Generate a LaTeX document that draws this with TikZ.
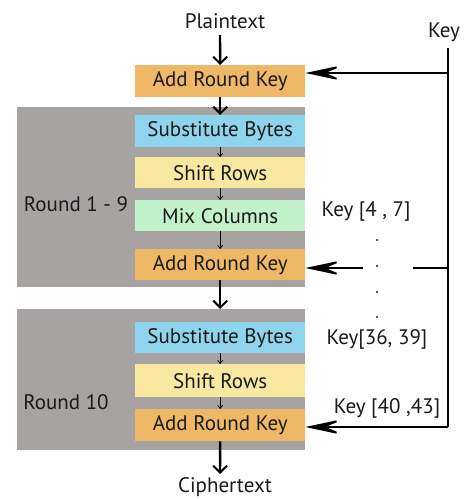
\documentclass[tikz,border=0pt]{standalone}
\usepackage{fontspec}
\setmainfont{PT Sans}
\usetikzlibrary{arrows.meta}
\definecolor{ark}{HTML}{EFB866}
\definecolor{sbc}{HTML}{8FD4ED}
\definecolor{src}{HTML}{F8E8A0}
\definecolor{mcc}{HTML}{C2F2CA}
\definecolor{grayc}{HTML}{A8A3A3}
\definecolor{txt}{HTML}{1A1A1A}
\begin{document}
\begin{tikzpicture}[x=1pt,y=-1pt,
  stage/.style={minimum width=170pt,minimum height=32pt,inner sep=0pt,anchor=north west,
    font=\fontsize{21}{24}\selectfont,text=txt},
  roundbox/.style={fill=grayc,minimum width=288pt,inner sep=0pt,anchor=north west},
  lbl/.style={font=\fontsize{21}{24}\selectfont,text=txt,inner sep=0pt},
  bigarrow/.style={line width=2.4pt,-{Straight Barb[length=7pt,width=14pt,line width=2pt]}},
  smallarrow/.style={line width=0.8pt,-{Straight Barb[length=3pt,width=5pt]}},
  keyline/.style={line width=2pt},
  keyarrow/.style={line width=1.8pt,-{Stealth[length=40pt,width=17pt,inset=20pt]}},
  dotc/.style={circle,fill=txt,inner sep=0pt,minimum size=2.2pt}]
\useasboundingbox (0,0) rectangle (465,499);
% round backgrounds
\node[roundbox,minimum height=180pt] (r1) at (17,107) {};
\node[roundbox,minimum height=141pt] (r2) at (17,309) {};
\node[lbl] (r1l) at (76,204) {Round 1 - 9};
\node[lbl] (r2l) at (66,402) {Round 10};
% stages
\node[stage,fill=ark] (ark0) at (135,65) {Add Round Key};
\node[stage,fill=sbc,minimum height=32pt] (sb1) at (135,115) {Substitute Bytes};
\node[stage,fill=src,minimum height=31pt] (sr1) at (135,157) {Shift Rows};
\node[stage,fill=mcc,minimum height=31pt] (mc1) at (135,200) {Mix Columns};
\node[stage,fill=ark,minimum height=31pt] (ark1) at (135,249) {Add Round Key};
\node[stage,fill=sbc,minimum height=31pt] (sb2) at (135,322) {Substitute Bytes};
\node[stage,fill=src,minimum height=33pt] (sr2) at (135,364) {Shift Rows};
\node[stage,fill=ark,minimum height=32pt] (ark2) at (135,409) {Add Round Key};
% texts
\node[lbl] (pt) at (225,21) {Plaintext};
\node[lbl] (ct) at (225,487) {Ciphertext};
\node[lbl] (key) at (444,32) {Key};
\node[lbl] (k47) at (366,211) {Key [4 , 7]};
\node[lbl] (k3639) at (377,339) {Key[36, 39]};
\node[lbl] (k4043) at (387,408) {Key [40 ,43]};
% main flow
\draw[bigarrow] (220,35) -- (ark0.north);
\draw[bigarrow] (ark0.south) -- (sb1.north);
\draw[smallarrow] (sb1.south) -- (sr1.north);
\draw[smallarrow] (sr1.south) -- (mc1.north);
\draw[smallarrow] (mc1.south) -- (ark1.north);
\draw[bigarrow] (ark1.south) -- (ark1.south |- r2.north);
\draw[smallarrow] (sb2.south) -- (sr2.north);
\draw[smallarrow] (sr2.south) -- (ark2.north);
\draw[bigarrow] (ark2.south) -- (220,474);
% key schedule
\coordinate (ktop) at (448,48);
\coordinate (k1) at (448,73);
\coordinate (kmid) at (448,268);
\coordinate (kmidend) at (413,268);
\coordinate (kmidstart) at (363,268);
\coordinate (kbot) at (448,427);
\draw[keyline] (ktop) -- (kbot);
\draw[keyarrow] (k1) -- (ark0.east |- k1);
\draw[keyline] (kmid) -- (kmidend);
\draw[keyarrow] (kmidstart) -- (ark1.east |- kmid);
\draw[keyarrow] (kbot) -- (ark2.east |- kbot);
\node[dotc] (d1) at (377,240) {};
\node[dotc] (d2) at (377,266) {};
\node[dotc] (d3) at (377,292) {};
\node[dotc] (d4) at (377,317) {};
\end{tikzpicture}
\end{document}
